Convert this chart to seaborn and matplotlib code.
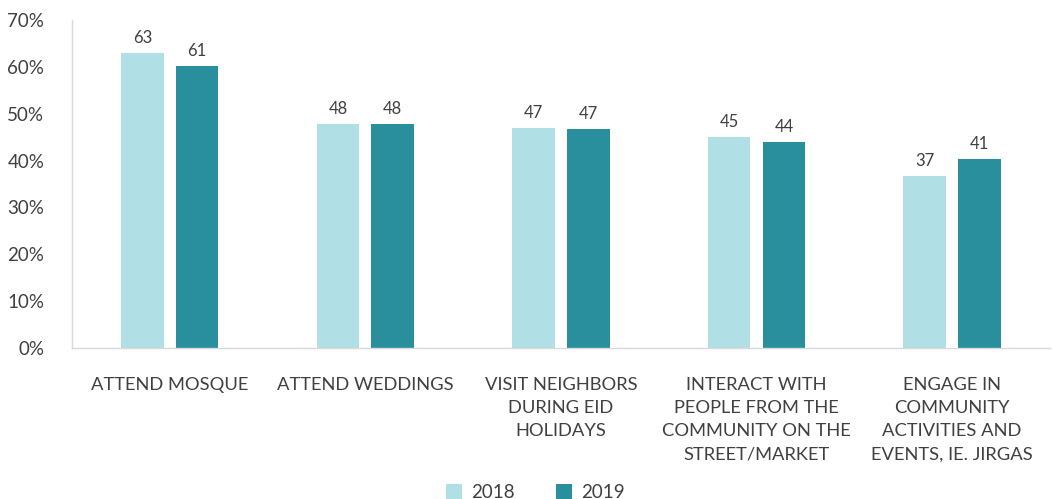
import pandas as pd
import matplotlib.pyplot as plt
import seaborn as sns

# values
categories = ["ATTEND MOSQUE", "ATTEND WEDDINGS", "VISIT NEIGHBORS\nDURING EID\nHOLIDAYS",
              "INTERACT WITH\nPEOPLE FROM THE\nCOMMUNITY ON THE\nSTREET/MARKET",
              "ENGAGE IN\nCOMMUNITY\nACTIVITIES AND\nEVENTS, IE. JIRGAS"]
years = ["2018", "2019"]
values_2018 = [63, 47.8, 47, 45, 36.7]
values_2019 = [60.2, 47.8, 46.8, 44, 40.3]
labels_2018 = ["63", "48", "47", "45", "37"]
labels_2019 = ["61", "48", "47", "44", "41"]

df = pd.DataFrame({
    "category": categories * 2,
    "year": [years[0]] * 5 + [years[1]] * 5,
    "value": values_2018 + values_2019,
})

sns.set_style("white")
plt.rcParams['font.family'] = ['Lato', 'DejaVu Sans']
text_color = '#404040'

fig = plt.figure(figsize=(10.52, 4.99), dpi=100)
ax = fig.add_axes([0.0684, 0.3026, 0.9296, 0.6574])

sns.barplot(data=df, x="category", y="value", hue="year", order=categories,
            palette=["#B0DFE5", "#2A8F9C"], saturation=1, width=0.56, gap=0.22,
            linewidth=0, ax=ax)

for cont, labs in zip(ax.containers, [labels_2018, labels_2019]):
    ax.bar_label(cont, labels=labs, padding=5, fontsize=12, color=text_color)

ax.set_ylim(0, 70)
ax.set_xlim(-0.5, 4.5)
ax.set_yticks(range(0, 71, 10))
ax.set_yticklabels([f"{v}%" for v in range(0, 71, 10)], fontsize=13.5, color=text_color)
ax.set_xticklabels(categories, fontsize=13.2, color=text_color, va='top', linespacing=1.55)
ax.tick_params(axis='both', length=0)
ax.tick_params(axis='x', pad=21)
ax.tick_params(axis='y', pad=20)
ax.set_xlabel("")
ax.set_ylabel("")

for side in ["top", "right"]:
    ax.spines[side].set_visible(False)
for side in ["left", "bottom"]:
    ax.spines[side].set_color('#D9D9D9')
    ax.spines[side].set_linewidth(1)

ax.legend(loc='center', bbox_to_anchor=(0.474, -0.44), ncol=2, frameon=False,
          fontsize=13.5, labelcolor=text_color, handlelength=0.85, handleheight=0.85,
          columnspacing=2.2, handletextpad=0.5, borderpad=0)

plt.savefig('out.png', dpi=100)
